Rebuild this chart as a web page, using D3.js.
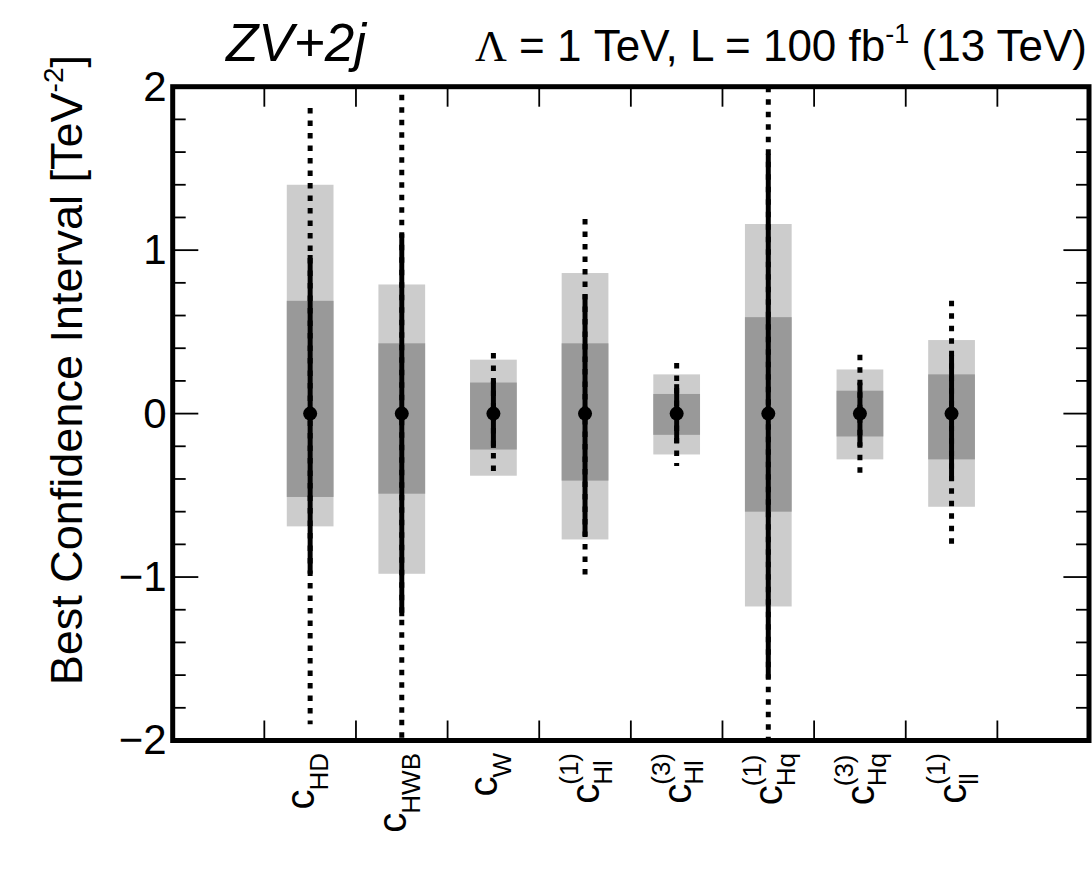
<!DOCTYPE html>
<html>
<head>
<meta charset="utf-8">
<script src="https://cdn.jsdelivr.net/npm/d3@7"></script>
<style>
  body { margin: 0; background: #fff; }
  text { font-family: "Liberation Sans", Arial, Helvetica, sans-serif; fill: #000; }
</style>
</head>
<body>
<div id="container"></div>
<script>
// Wilson coefficients (subscript / superscript of c)
const coefSubs = ["HD", "HWB", "W", "Hl", "Hl", "Hq", "Hq", "ll"];
const coefSups = ["", "", "", "(1)", "(3)", "(1)", "(3)", "(1)"];
const bestFit = [0, 0, 0, 0, 0, 0, 0, 0];

// light grey band (outer) and dark grey band (inner)
const band95Lo = [-0.69, -0.98, -0.38, -0.77, -0.25, -1.18, -0.28, -0.57];
const band95Hi = [1.40, 0.79, 0.33, 0.86, 0.24, 1.16, 0.27, 0.45];
const band68Lo = [-0.51, -0.49, -0.22, -0.41, -0.13, -0.60, -0.14, -0.28];
const band68Hi = [0.69, 0.43, 0.19, 0.43, 0.12, 0.59, 0.14, 0.24];

// solid line (68%) and dotted line (95%)
const ci68Lo = [-0.98, -1.24, -0.21, -0.75, -0.18, -1.62, -0.20, -0.41];
const ci68Hi = [0.97, 1.10, 0.20, 0.73, 0.18, 1.59, 0.19, 0.36];
const ci95Lo = [-1.90, -2.00, -0.39, -1.00, -0.32, -2.00, -0.38, -0.83];
const ci95Hi = [1.87, 1.95, 0.37, 1.19, 0.31, 2.00, 0.36, 0.69];

const yMajorTicks = [-2, -1, 0, 1, 2];
const yMinorTicks = [-1.8, -1.6, -1.4, -1.2, -0.8, -0.6, -0.4, -0.2,
                     0.2, 0.4, 0.6, 0.8, 1.2, 1.4, 1.6, 1.8];
const nBins = 10; // first and last bins are empty

const width = 1092;
const height = 885;
const plot = { left: 172.7, right: 1089, top: 86.7, bottom: 740.5 };

const svg = d3.select("#container")
  .append("svg")
  .attr("width", width)
  .attr("height", height)
  .style("display", "block");

const x = d3.scaleBand()
  .domain(d3.range(nBins))
  .range([plot.left, plot.right]);

const y = d3.scaleLinear()
  .domain([-2, 2])
  .range([plot.bottom, plot.top]);

const boxW = x.bandwidth() * 0.51;
const cx = i => x(i + 1) + x.bandwidth() / 2;

const data = coefSubs.map((s, i) => ({
  i, sub: s, sup: coefSups[i], best: bestFit[i],
  b95: [band95Lo[i], band95Hi[i]], b68: [band68Lo[i], band68Hi[i]],
  c68: [ci68Lo[i], ci68Hi[i]], c95: [ci95Lo[i], ci95Hi[i]]
}));

svg.append("clipPath").attr("id", "clip")
  .append("rect")
  .attr("x", plot.left).attr("y", plot.top)
  .attr("width", plot.right - plot.left).attr("height", plot.bottom - plot.top);

const marks = svg.append("g").attr("clip-path", "url(#clip)");

// bands
marks.selectAll(".b95").data(data).join("rect")
  .attr("x", d => cx(d.i) - boxW / 2)
  .attr("width", boxW)
  .attr("y", d => y(d.b95[1]))
  .attr("height", d => y(d.b95[0]) - y(d.b95[1]))
  .attr("fill", "#cccccc");

marks.selectAll(".b68").data(data).join("rect")
  .attr("x", d => cx(d.i) - boxW / 2)
  .attr("width", boxW)
  .attr("y", d => y(d.b68[1]))
  .attr("height", d => y(d.b68[0]) - y(d.b68[1]))
  .attr("fill", "#999999");

// dotted 95% lines
marks.selectAll(".c95").data(data).join("line")
  .attr("x1", d => cx(d.i)).attr("x2", d => cx(d.i))
  .attr("y1", d => y(d.c95[1])).attr("y2", d => y(d.c95[0]))
  .attr("stroke", "#000")
  .attr("stroke-width", 5)
  .attr("stroke-dasharray", "5.5,7");

// solid 68% lines
marks.selectAll(".c68").data(data).join("line")
  .attr("x1", d => cx(d.i)).attr("x2", d => cx(d.i))
  .attr("y1", d => y(d.c68[1])).attr("y2", d => y(d.c68[0]))
  .attr("stroke", "#000")
  .attr("stroke-width", 5);

// best fit points
marks.selectAll(".pt").data(data).join("circle")
  .attr("cx", d => cx(d.i))
  .attr("cy", d => y(d.best))
  .attr("r", 7)
  .attr("fill", "#000");

// y axes, ticks inward
function yTicks(sel, vals, len, side) {
  sel.selectAll(null).data(vals).join("line")
    .attr("x1", side === "left" ? plot.left : plot.right)
    .attr("x2", side === "left" ? plot.left + len : plot.right - len)
    .attr("y1", d => y(d)).attr("y2", d => y(d))
    .attr("stroke", "#000").attr("stroke-width", 1.8);
}
const tickG = svg.append("g");
yTicks(tickG, yMajorTicks, 25.6, "left");
yTicks(tickG, yMinorTicks, 13, "left");
yTicks(tickG, yMajorTicks, 25.6, "right");
yTicks(tickG, yMinorTicks, 13, "right");

// x ticks at bin edges, top and bottom
const xEdges = d3.range(1, nBins);
tickG.selectAll(null).data(xEdges).join("line")
  .attr("x1", d => x(d)).attr("x2", d => x(d))
  .attr("y1", plot.bottom).attr("y2", plot.bottom - 20)
  .attr("stroke", "#000").attr("stroke-width", 1.8);
tickG.selectAll(null).data(xEdges).join("line")
  .attr("x1", d => x(d)).attr("x2", d => x(d))
  .attr("y1", plot.top).attr("y2", plot.top + 20)
  .attr("stroke", "#000").attr("stroke-width", 1.8);

// y tick labels via axis
const yAxis = d3.axisLeft(y)
  .tickValues(yMajorTicks)
  .tickSize(0)
  .tickPadding(6)
  .tickFormat(d => d < 0 ? "\u2212" + Math.abs(d) : String(d));
const yAxisG = svg.append("g")
  .attr("transform", `translate(${plot.left},0)`)
  .call(yAxis);
yAxisG.select(".domain").remove();
yAxisG.selectAll("text")
  .attr("font-size", 42)
  .attr("font-family", "Liberation Sans, Arial, sans-serif")
  .attr("fill", "#000");

// frame
svg.append("rect")
  .attr("x", plot.left).attr("y", plot.top)
  .attr("width", plot.right - plot.left)
  .attr("height", plot.bottom - plot.top)
  .attr("fill", "none")
  .attr("stroke", "#000")
  .attr("stroke-width", 5);

// x category labels, rotated
const labelY = 752;
data.forEach(d => {
  const g = svg.append("g")
    .attr("transform", `translate(${cx(d.i)},${labelY}) rotate(-90)`);
  const c = g.append("text").attr("font-size", 40).text("c");
  const sub = g.append("text").attr("font-size", 26).text(d.sub);
  const wc = c.node().getComputedTextLength();
  const ws = sub.node().getComputedTextLength();
  let wsup = 0;
  let sup = null;
  if (d.sup) {
    sup = g.append("text").attr("font-size", 26).text(d.sup);
    wsup = sup.node().getComputedTextLength();
  }
  const L = wc + Math.max(ws, wsup);
  const b = d.sup ? 14 : 4;
  c.attr("x", -L).attr("y", b);
  sub.attr("x", -L + wc - 1).attr("y", b + (d.sup ? 12.5 : 14));
  if (sup) sup.attr("x", -L + wc - 1).attr("y", b - 21);
});

// y axis title
const yTitle = svg.append("text")
  .attr("transform", "translate(82,55) rotate(-90)")
  .attr("text-anchor", "end")
  .attr("font-size", 45);
yTitle.append("tspan").text("Best Confidence Interval [TeV");
yTitle.append("tspan").attr("font-size", 28).attr("dy", -19).text("-2");
yTitle.append("tspan").attr("dy", 19).text("]");

// header
svg.append("text")
  .attr("x", 226).attr("y", 61)
  .attr("font-size", 53)
  .attr("font-style", "italic")
  .text("ZV+2j");

const hdr = svg.append("text")
  .attr("x", 1087).attr("y", 61)
  .attr("text-anchor", "end")
  .attr("font-size", 44);
hdr.append("tspan").attr("font-family", "Liberation Serif, Times New Roman, serif").text("\u039B");
hdr.append("tspan").text(" = 1 TeV, L = 100 fb");
hdr.append("tspan").attr("font-size", 27).attr("dy", -18).text("-1");
hdr.append("tspan").attr("dy", 18).text(" (13 TeV)");
</script>
</body>
</html>
